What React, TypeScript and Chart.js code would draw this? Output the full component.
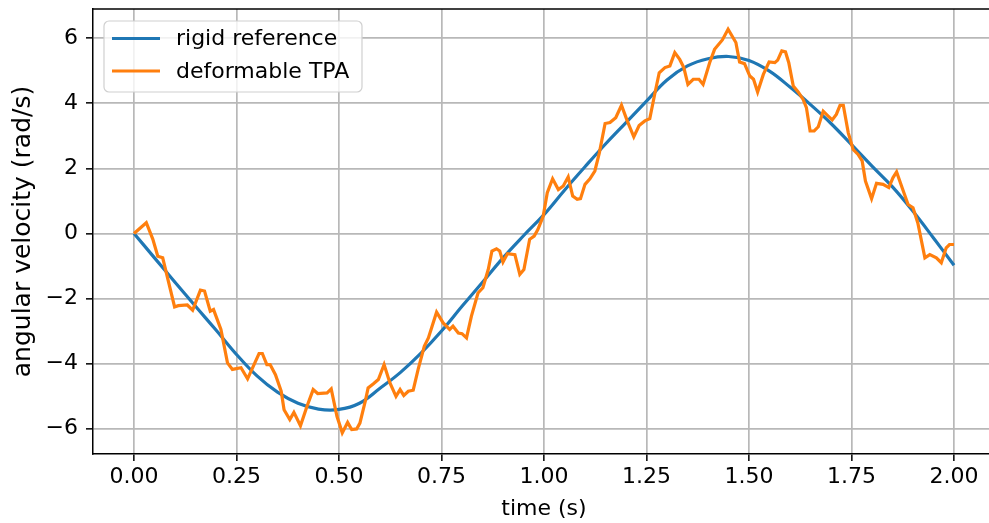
import React, { useEffect, useRef } from "react";
import { Chart, registerables } from "chart.js";

Chart.register(...registerables);

const xTicks = [0, 0.25, 0.5, 0.75, 1.0, 1.25, 1.5, 1.75, 2.0];
const yTicks = [-6, -4, -2, 0, 2, 4, 6];

const seriesNames = ["rigid reference", "deformable TPA"];

const rigidT = [
  0, 0.05, 0.1, 0.15, 0.2, 0.25, 0.3, 0.35, 0.4, 0.45, 0.5, 0.55, 0.6, 0.65, 0.7, 0.75, 0.8, 0.85, 0.9, 0.95,
  1.0, 1.05, 1.1, 1.15, 1.2, 1.25, 1.3, 1.35, 1.4, 1.45, 1.5, 1.55, 1.6, 1.65, 1.7, 1.75, 1.8, 1.85, 1.9, 1.95, 2.0,
];
const rigidV = [
  0, -0.75, -1.5, -2.24, -2.97, -3.72, -4.38, -4.88, -5.22, -5.4, -5.41, -5.22, -4.76, -4.27, -3.68, -3.0, -2.24,
  -1.5, -0.75, -0.07, 0.58, 1.33, 2.05, 2.75, 3.41, 4.07, 4.72, 5.15, 5.37, 5.44, 5.32, 4.99, 4.5, 3.96, 3.38, 2.73,
  2.07, 1.43, 0.68, -0.14, -0.98,
];

const tpaT = [
  0.0, 0.03, 0.046, 0.058, 0.07, 0.099, 0.108, 0.13, 0.143, 0.162, 0.172, 0.186, 0.194, 0.212, 0.228, 0.24, 0.261,
  0.277, 0.305, 0.313, 0.324, 0.332, 0.345, 0.359, 0.366, 0.38, 0.39, 0.406, 0.422, 0.437, 0.448, 0.471, 0.481,
  0.495, 0.508, 0.521, 0.531, 0.543, 0.551, 0.565, 0.571, 0.584, 0.596, 0.61, 0.624, 0.639, 0.649, 0.658, 0.669,
  0.681, 0.693, 0.708, 0.718, 0.738, 0.754, 0.77, 0.778, 0.791, 0.8, 0.811, 0.823, 0.839, 0.851, 0.864, 0.873,
  0.884, 0.892, 0.9, 0.911, 0.929, 0.941, 0.951, 0.965, 0.976, 0.985, 0.998, 1.008, 1.021, 1.035, 1.047, 1.059,
  1.07, 1.081, 1.089, 1.1, 1.112, 1.124, 1.135, 1.149, 1.161, 1.175, 1.189, 1.203, 1.219, 1.232, 1.246, 1.258,
  1.27, 1.281, 1.295, 1.307, 1.319, 1.331, 1.341, 1.351, 1.364, 1.378, 1.388, 1.404, 1.416, 1.435, 1.449, 1.468,
  1.477, 1.489, 1.502, 1.511, 1.521, 1.535, 1.549, 1.563, 1.57, 1.58, 1.589, 1.597, 1.608, 1.62, 1.632, 1.64,
  1.649, 1.659, 1.669, 1.681, 1.693, 1.703, 1.713, 1.722, 1.73, 1.742, 1.754, 1.766, 1.776, 1.784, 1.799, 1.811,
  1.827, 1.841, 1.851, 1.86, 1.872, 1.888, 1.9, 1.912, 1.929, 1.941, 1.957, 1.969, 1.981, 1.989, 2.0,
];
const tpaV = [
  0.0, 0.33, -0.18, -0.7, -0.75, -2.26, -2.22, -2.2, -2.36, -1.74, -1.77, -2.39, -2.34, -2.95, -3.98, -4.18, -4.13,
  -4.47, -3.69, -3.69, -4.03, -4.03, -4.34, -4.85, -5.42, -5.72, -5.5, -5.91, -5.31, -4.8, -4.92, -4.9, -4.78,
  -5.62, -6.13, -5.81, -6.03, -6.01, -5.83, -5.11, -4.75, -4.62, -4.49, -4.03, -4.59, -5.01, -4.8, -4.98, -4.85,
  -4.82, -4.18, -3.47, -3.21, -2.42, -2.75, -2.95, -2.85, -3.06, -3.08, -3.21, -2.54, -1.83, -1.67, -1.11, -0.54,
  -0.47, -0.54, -0.88, -0.62, -0.65, -1.26, -1.11, -0.18, -0.08, 0.12, 0.53, 1.25, 1.68, 1.35, 1.46, 1.74,
  1.15, 1.05, 1.07, 1.51, 1.68, 1.92, 2.48, 3.38, 3.41, 3.56, 3.94, 3.46, 2.97, 3.32, 3.46, 3.53,
  4.28, 4.94, 5.1, 5.15, 5.56, 5.35, 5.1, 4.58, 4.74, 4.74, 4.58, 5.25, 5.66, 5.95, 6.28, 5.87,
  5.27, 5.22, 4.84, 4.74, 4.35, 4.89, 5.27, 5.25, 5.33, 5.61, 5.58, 5.25, 4.53, 4.35, 4.12, 3.87,
  3.15, 3.15, 3.28, 3.76, 3.61, 3.49, 3.66, 3.94, 3.94, 3.1, 2.58, 2.43, 2.23, 1.61, 1.07, 1.54,
  1.51, 1.41, 1.71, 1.89, 1.46, 0.89, 0.79, 0.31, -0.75, -0.65, -0.75, -0.9, -0.44, -0.34, -0.34,
];

const BLUE = "#1f77b4";
const ORANGE = "#ff7f0e";
const FONT = "'DejaVu Sans', sans-serif";

const frameAndLegend = {
  id: "frameAndLegend",
  afterDraw(chart: any) {
    const ctx = chart.ctx;
    const a = chart.chartArea;
    ctx.save();
    // top spine
    ctx.strokeStyle = "#000";
    ctx.lineWidth = 1.5;
    ctx.beginPath();
    ctx.moveTo(a.left - 0.75, a.top);
    ctx.lineTo(a.right, a.top);
    ctx.stroke();

    // legend
    const bx = a.left + 11;
    const by = a.top + 12;
    const bw = 258;
    const bh = 71;
    ctx.beginPath();
    if (ctx.roundRect) ctx.roundRect(bx, by, bw, bh, 5);
    else ctx.rect(bx, by, bw, bh);
    ctx.fillStyle = "rgba(255,255,255,0.8)";
    ctx.fill();
    ctx.strokeStyle = "#d0d0d0";
    ctx.lineWidth = 1.2;
    ctx.stroke();
    const colors = [BLUE, ORANGE];
    const rows = [by + 17.5, by + 50];
    ctx.font = "22px " + FONT;
    ctx.textBaseline = "middle";
    ctx.textAlign = "left";
    seriesNames.forEach((name, i) => {
      ctx.strokeStyle = colors[i];
      ctx.lineWidth = 3.2;
      ctx.beginPath();
      ctx.moveTo(bx + 8, rows[i]);
      ctx.lineTo(bx + 56, rows[i]);
      ctx.stroke();
      ctx.fillStyle = "#000";
      ctx.fillText(name, bx + 72, rows[i] + 1);
    });
    ctx.restore();
  },
};

export default function App() {
  const canvasRef = useRef<HTMLCanvasElement | null>(null);

  useEffect(() => {
    const canvas = canvasRef.current;
    if (!canvas) return;
    const chart = new Chart(canvas, {
      type: "line",
      data: {
        datasets: [
          {
            label: seriesNames[1],
            data: tpaT.map((t, i) => ({ x: t, y: tpaV[i] })),
            borderColor: ORANGE,
            backgroundColor: ORANGE,
            borderWidth: 3.2,
            pointRadius: 0,
            tension: 0,
            order: 0,
          },
          {
            label: seriesNames[0],
            data: rigidT.map((t, i) => ({ x: t, y: rigidV[i] })),
            borderColor: BLUE,
            backgroundColor: BLUE,
            borderWidth: 3.2,
            pointRadius: 0,
            tension: 0.4,
            order: 1,
          },
        ],
      },
      options: {
        animation: false,
        responsive: false,
        maintainAspectRatio: false,
        devicePixelRatio: 1,
        layout: { padding: { top: 9, right: 5, left: 0, bottom: 0 } },
        plugins: {
          legend: { display: false },
          tooltip: { enabled: false },
          title: { display: false },
        },
        scales: {
          x: {
            type: "linear",
            min: -0.1,
            max: 2.1,
            afterBuildTicks: (axis: any) => {
              axis.ticks = xTicks.map((v) => ({ value: v }));
            },
            afterFit: (axis: any) => {
              axis.height = 69;
              axis.paddingLeft = 0;
              axis.paddingRight = 0;
            },
            grid: {
              color: "#b8b8b8",
              lineWidth: 1.7,
              drawTicks: true,
              tickLength: 7,
              tickColor: "#000",
              tickWidth: 1.5,
            },
            border: { display: true, color: "#000", width: 1.5 },
            ticks: {
              color: "#000",
              font: { family: FONT, size: 22 },
              padding: 3,
              maxRotation: 0,
              autoSkip: false,
              callback: (v: any) => Number(v).toFixed(2),
            },
            title: {
              display: true,
              text: "time (s)",
              color: "#000",
              font: { family: FONT, size: 22 },
              padding: { top: 0, bottom: 1 },
            },
          },
          y: {
            type: "linear",
            min: -6.78,
            max: 6.9,
            afterBuildTicks: (axis: any) => {
              axis.ticks = yTicks.map((v) => ({ value: v }));
            },
            afterFit: (axis: any) => {
              axis.width = 93;
              axis.paddingTop = 0;
              axis.paddingBottom = 0;
            },
            grid: {
              color: "#b8b8b8",
              lineWidth: 1.7,
              drawTicks: true,
              tickLength: 7,
              tickColor: "#000",
              tickWidth: 1.5,
            },
            border: { display: true, color: "#000", width: 1.5 },
            ticks: {
              color: "#000",
              font: { family: FONT, size: 22 },
              padding: 8,
              autoSkip: false,
              callback: (v: any) => {
                const n = Number(v);
                return n < 0 ? "\u2212" + Math.abs(n) : String(n);
              },
            },
            title: {
              display: true,
              text: "angular velocity (rad/s)",
              color: "#000",
              font: { family: FONT, size: 25 },
              padding: { top: 8, bottom: 0 },
            },
          },
        },
      },
      plugins: [frameAndLegend],
    });
    return () => chart.destroy();
  }, []);

  return (
    <div
      style={{
        position: "fixed",
        left: 0,
        top: 0,
        width: 989,
        height: 523,
        overflow: "hidden",
        background: "#fff",
      }}
    >
      <canvas ref={canvasRef} width={1000} height={523} style={{ width: 1000, height: 523, display: "block" }} />
    </div>
  );
}
